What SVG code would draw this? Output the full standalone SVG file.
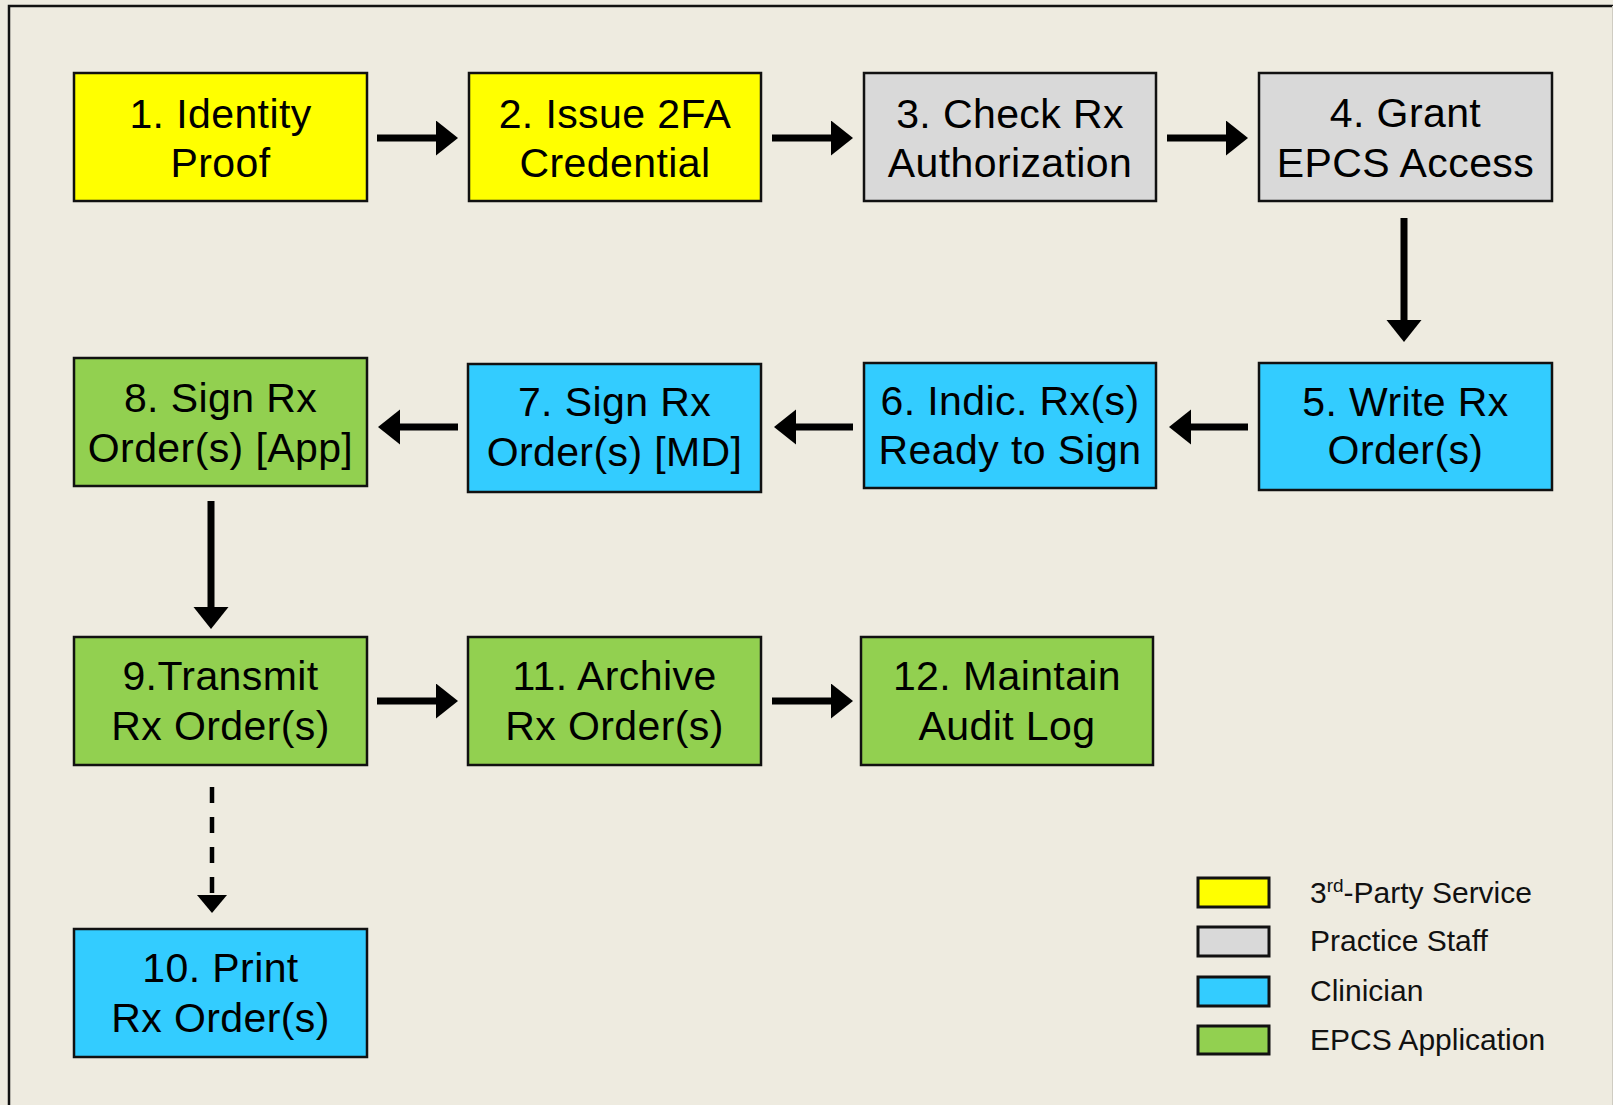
<svg xmlns="http://www.w3.org/2000/svg" width="1613" height="1105" viewBox="0 0 1613 1105">
  <style>
    .bg { fill: #EEEBE0; }
    .frame { fill: none; stroke: #111; stroke-width: 2.5; }
    .node rect { stroke: #111; stroke-width: 2.5; }
    .yellow { fill: #FFFF00; }
    .grey { fill: #D9D9D9; }
    .blue { fill: #33CCFF; }
    .green { fill: #92D050; }
    .label { font-family: "Liberation Sans", Arial, sans-serif; font-size: 41px; letter-spacing: 0.4px; fill: #000; text-anchor: middle; }
    .flow { stroke: #000; stroke-width: 7; fill: none; }
    .flow-dashed { stroke: #000; stroke-width: 4.5; fill: none; stroke-dasharray: 16 14; }
    .legend rect { stroke: #111; stroke-width: 3; }
    .legend text { font-family: "Liberation Sans", Arial, sans-serif; font-size: 30px; fill: #111; }
  </style>
  <defs>
    <marker id="head" markerUnits="userSpaceOnUse" markerWidth="23" markerHeight="36" refX="1" refY="17.5" orient="auto">
      <path d="M0,0 L22,17.5 L0,35 Z" fill="#000"/>
    </marker>
    <marker id="head-small" markerUnits="userSpaceOnUse" markerWidth="19" markerHeight="31" refX="1" refY="15" orient="auto">
      <path d="M0,0 L18,15 L0,30 Z" fill="#000"/>
    </marker>
  </defs>

  <!-- background and frame -->
  <rect class="bg" x="0" y="0" width="1613" height="1105"/>
  <path class="frame" d="M9,1105 V6 H1613"/>
  <line x1="1612.5" y1="6" x2="1612.5" y2="1105" stroke="#cfccc2" stroke-width="1"/>

  <!-- process steps -->
  <g id="step1" class="node">
    <rect class="yellow" x="74" y="73" width="293" height="128"/>
    <text class="label" x="220.5" y="128">1. Identity</text>
    <text class="label" x="220.5" y="177">Proof</text>
  </g>
  <g id="step2" class="node">
    <rect class="yellow" x="469" y="73" width="292" height="128"/>
    <text class="label" x="615" y="128">2. Issue 2FA</text>
    <text class="label" x="615" y="177">Credential</text>
  </g>
  <g id="step3" class="node">
    <rect class="grey" x="864" y="73" width="292" height="128"/>
    <text class="label" x="1010" y="128">3. Check Rx</text>
    <text class="label" x="1010" y="177">Authorization</text>
  </g>
  <g id="step4" class="node">
    <rect class="grey" x="1259" y="73" width="293" height="128"/>
    <text class="label" x="1405.5" y="127">4. Grant</text>
    <text class="label" x="1405.5" y="177">EPCS Access</text>
  </g>
  <g id="step5" class="node">
    <rect class="blue" x="1259" y="363" width="293" height="127"/>
    <text class="label" x="1405.5" y="416">5. Write Rx</text>
    <text class="label" x="1405.5" y="464">Order(s)</text>
  </g>
  <g id="step6" class="node">
    <rect class="blue" x="864" y="363" width="292" height="125"/>
    <text class="label" x="1010" y="415">6. Indic. Rx(s)</text>
    <text class="label" x="1010" y="464">Ready to Sign</text>
  </g>
  <g id="step7" class="node">
    <rect class="blue" x="468" y="364" width="293" height="128"/>
    <text class="label" x="614.5" y="416">7. Sign Rx</text>
    <text class="label" x="614.5" y="466">Order(s) [MD]</text>
  </g>
  <g id="step8" class="node">
    <rect class="green" x="74" y="358" width="293" height="128"/>
    <text class="label" x="220.5" y="412">8. Sign Rx</text>
    <text class="label" x="220.5" y="462">Order(s) [App]</text>
  </g>
  <g id="step9" class="node">
    <rect class="green" x="74" y="637" width="293" height="128"/>
    <text class="label" x="220.5" y="690">9.Transmit</text>
    <text class="label" x="220.5" y="740">Rx Order(s)</text>
  </g>
  <g id="step11" class="node">
    <rect class="green" x="468" y="637" width="293" height="128"/>
    <text class="label" x="614.5" y="690">11. Archive</text>
    <text class="label" x="614.5" y="740">Rx Order(s)</text>
  </g>
  <g id="step12" class="node">
    <rect class="green" x="861" y="637" width="292" height="128"/>
    <text class="label" x="1007" y="690">12. Maintain</text>
    <text class="label" x="1007" y="740">Audit Log</text>
  </g>
  <g id="step10" class="node">
    <rect class="blue" x="74" y="929" width="293" height="128"/>
    <text class="label" x="220.5" y="982">10. Print</text>
    <text class="label" x="220.5" y="1032">Rx Order(s)</text>
  </g>

  <!-- connectors -->
  <g id="connectors">
    <line class="flow" x1="377" y1="138" x2="437" y2="138" marker-end="url(#head)"/>
    <line class="flow" x1="772" y1="138" x2="832" y2="138" marker-end="url(#head)"/>
    <line class="flow" x1="1167" y1="138" x2="1227" y2="138" marker-end="url(#head)"/>
    <line class="flow" x1="1404" y1="218" x2="1404" y2="321" marker-end="url(#head)"/>
    <line class="flow" x1="1248" y1="427" x2="1190" y2="427" marker-end="url(#head)"/>
    <line class="flow" x1="853" y1="427" x2="795" y2="427" marker-end="url(#head)"/>
    <line class="flow" x1="458" y1="427" x2="399" y2="427" marker-end="url(#head)"/>
    <line class="flow" x1="211" y1="501" x2="211" y2="608" marker-end="url(#head)"/>
    <line class="flow" x1="377" y1="701" x2="437" y2="701" marker-end="url(#head)"/>
    <line class="flow" x1="772" y1="701" x2="832" y2="701" marker-end="url(#head)"/>
    <line class="flow-dashed" x1="212" y1="787" x2="212" y2="896" marker-end="url(#head-small)"/>
  </g>

  <!-- legend -->
  <g id="legend" class="legend">
    <rect class="yellow" x="1198" y="878" width="71" height="29"/>
    <rect class="grey" x="1198" y="927" width="71" height="29"/>
    <rect class="blue" x="1198" y="977" width="71" height="29"/>
    <rect class="green" x="1198" y="1026" width="71" height="28"/>
    <text x="1310" y="903">3<tspan font-size="19" dy="-11">rd</tspan><tspan dy="11">-Party Service</tspan></text>
    <text x="1310" y="951">Practice Staff</text>
    <text x="1310" y="1001">Clinician</text>
    <text x="1310" y="1050">EPCS Application</text>
  </g>
</svg>
